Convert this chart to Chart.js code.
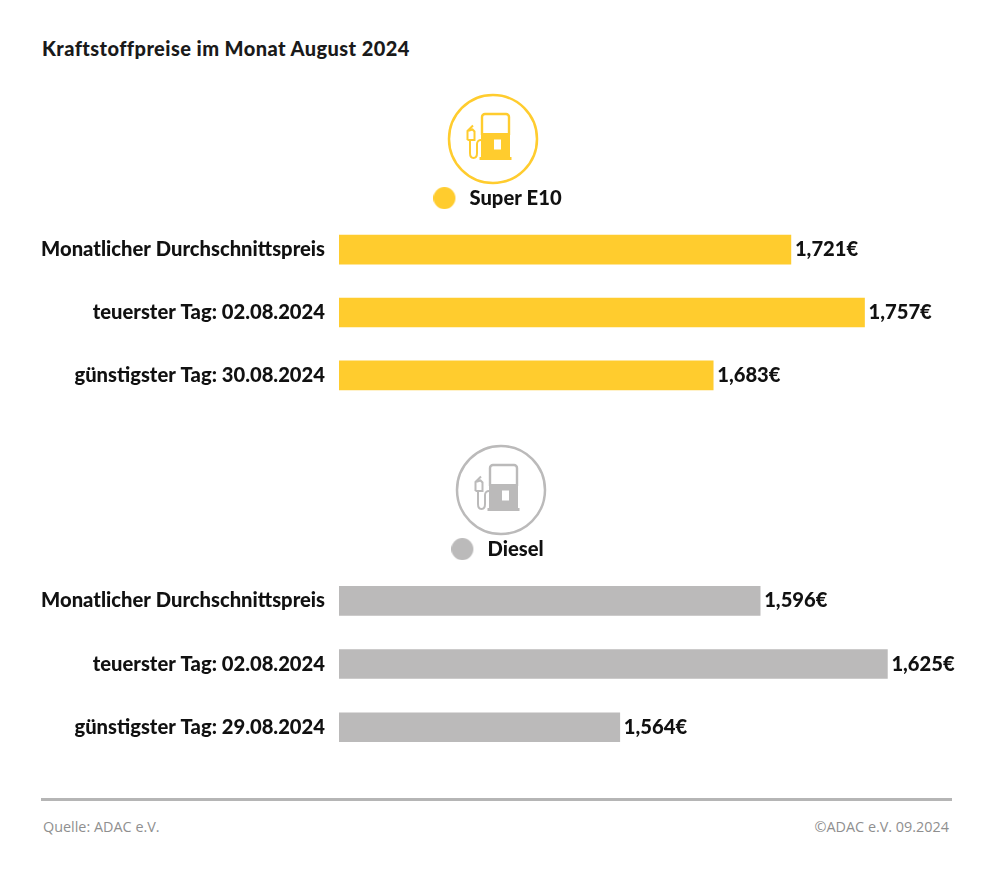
<!DOCTYPE html>
<html lang="de"><head><meta charset="utf-8">
<script src="https://cdn.jsdelivr.net/npm/chart.js@4"></script>
<style>
html,body{margin:0;padding:0;background:#fff;width:1008px;height:893px;overflow:hidden;font-family:Lato,sans-serif}
.abs{position:absolute}
#title{left:42px;top:36px;font:900 20px Lato,sans-serif;letter-spacing:.43px;color:#1a1a1a;white-space:nowrap}
#rule{left:41px;top:798px;width:911px;height:3px;background:#b5b5b5}
.foot{top:817px;font:14.4px "Open Sans",sans-serif;color:#8f8f8f;white-space:nowrap}
canvas{position:absolute;left:0}
</style></head><body>
<div id="title" class="abs">Kraftstoffpreise im Monat August 2024</div>
<svg width="0" height="0" style="position:absolute"><defs>
<symbol id="pump" viewBox="0 0 150 130">
<circle cx="73" cy="54" r="44" fill="#fff" stroke="currentColor" stroke-width="2.5"/>
<path d="M62 50V32a3 3 0 0 1 3-3H86a3 3 0 0 1 3 3V50" fill="none" stroke="currentColor" stroke-width="2.4"/>
<rect x="61" y="48" width="29" height="24.5" fill="currentColor"/>
<rect x="59.5" y="72" width="32" height="3" fill="currentColor"/>
<rect x="74" y="54.5" width="7" height="10" fill="#fff"/>
<path d="M50 55V68c0 6.500 7 6.500 7 0V59c0-2.500 2-4 4-4" fill="none" stroke="currentColor" stroke-width="2"/>
<path d="M47.500 55V46L53 40.500M47.500 46l5-1.500 2 2V55H47.500" fill="none" stroke="currentColor" stroke-width="2"/>
</symbol></defs></svg>
<svg class="abs" style="left:420px;top:85px;color:#FFCC2E" width="150" height="130"><use href="#pump"/></svg>
<svg class="abs" style="left:428px;top:436px;color:#BBBABA" width="150" height="130"><use href="#pump"/></svg>
<canvas id="c1" style="top:182px"></canvas>
<canvas id="c2" style="top:533px"></canvas>
<div id="rule" class="abs"></div>
<div class="foot abs" style="left:43px">Quelle: ADAC e.V.</div>
<div class="foot abs" style="right:59px">©ADAC e.V. 09.2024</div>
<script>
const superLabels = ['Monatlicher Durchschnittspreis','teuerster Tag: 02.08.2024','günstigster Tag: 30.08.2024'];
const superValues = [1.721,1.757,1.683];
const dieselLabels = ['Monatlicher Durchschnittspreis','teuerster Tag: 02.08.2024','günstigster Tag: 29.08.2024'];
const dieselValues = [1.596,1.625,1.564];
const superName = 'Super E10', dieselName = 'Diesel';
const axisMin = 1.5, superMax = 1.7993, dieselMax = 1.6395;
const YEL = '#FFCC2E', GRY = '#BBBABA', INK = '#111111';
const FONT = {family:'Lato, sans-serif', size:20.2, weight:'900'};

function dot(color){
  const c=document.createElement('canvas'); c.width=26; c.height=22;
  const x=c.getContext('2d'); x.fillStyle=color; x.beginPath(); x.arc(11,11,11,0,Math.PI*2); x.fill();
  return c;
}
const valueLabels = {
  id:'valueLabels',
  afterLayout(chart){ chart.scales.y.left = 0; },
  afterDatasetsDraw(chart){
    const ctx=chart.ctx, meta=chart.getDatasetMeta(0), data=chart.data.datasets[0].data;
    ctx.save(); ctx.font='900 20.2px Lato, sans-serif'; ctx.fillStyle=INK;
    ctx.textAlign='left'; ctx.textBaseline='middle';
    meta.data.forEach((b,i)=>ctx.fillText(data[i].toFixed(3).replace('.',',')+'€', b.x+4, b.y));
    ctx.restore();
  }
};
function make(id,labels,values,name,color,max,h){
  const el=document.getElementById(id);
  el.width=995; el.height=h; el.style.width='995px'; el.style.height=h+'px';
  return new Chart(el,{
    type:'bar',
    data:{labels,datasets:[{label:name,data:values,backgroundColor:color,barThickness:29,borderWidth:0}]},
    plugins:[valueLabels],
    options:{
      indexAxis:'y',responsive:false,animation:false,devicePixelRatio:1,
      layout:{padding:{left:44,right:44,top:0,bottom:0}},
      plugins:{
        tooltip:{enabled:false},
        legend:{display:true,position:'top',align:'center',
          labels:{usePointStyle:true,pointStyle:dot(color),pointStyleWidth:26,boxHeight:20,padding:6,color:INK,font:FONT}}
      },
      scales:{
        x:{display:false,min:axisMin,max:max},
        y:{grid:{display:false,drawTicks:false},border:{display:false},
           ticks:{color:INK,font:FONT,padding:14,autoSkip:false},
           afterFit(s){s.width=295;}}
      }
    }
  });
}
window.c1=make('c1',superLabels,superValues,superName,YEL,superMax,251);
window.c2=make('c2',dieselLabels,dieselValues,dieselName,GRY,dieselMax,252);
</script>
</body></html>
